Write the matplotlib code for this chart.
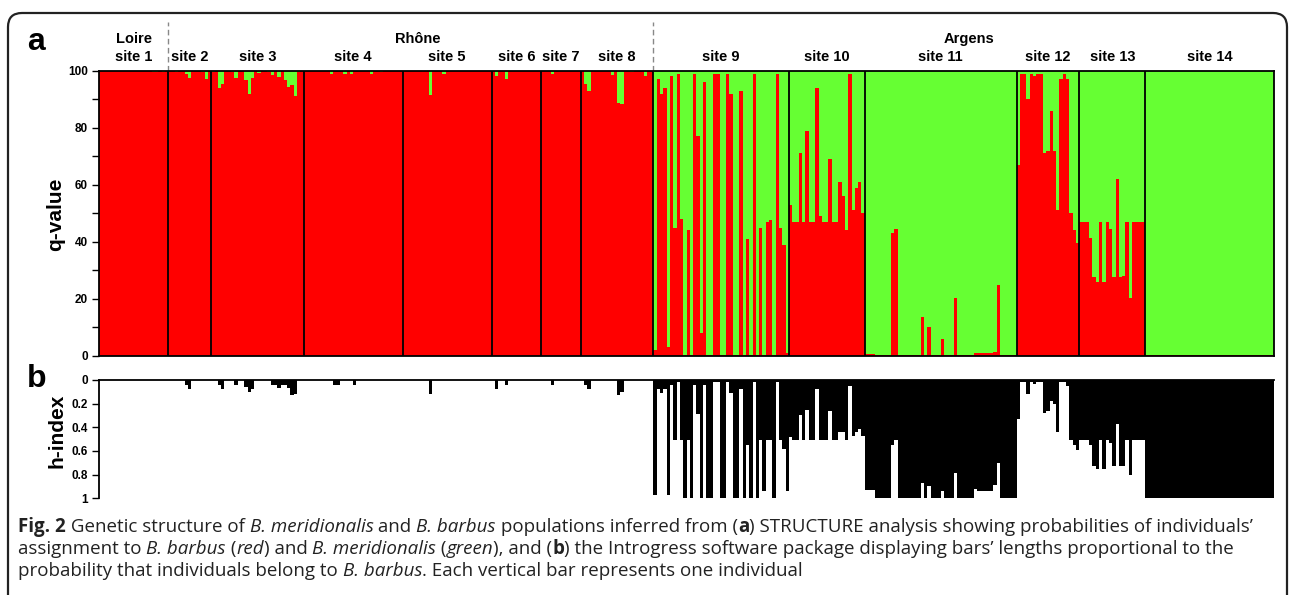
import numpy as np
import matplotlib
matplotlib.use("Agg")
import matplotlib.pyplot as plt
from matplotlib.patches import FancyBboxPatch
import matplotlib.transforms as mtransforms

plt.rcParams['font.family'] = ['Liberation Sans', 'DejaVu Sans']

RED = '#ff0000'
GREEN = '#66ff33'

# sites and regions
site_labels = ['site 1', 'site 2', 'site 3', 'site 4', 'site 5', 'site 6', 'site 7',
               'site 8', 'site 9', 'site 10', 'site 11', 'site 12', 'site 13', 'site 14']
region_labels = ['Loire', 'Rhône', 'Argens']
region_label_pos = [10.5, 96.7, 263.6]   # individual index where the region name sits
region_break_sites = [1, 8]              # dashed separators after these sites

# STRUCTURE q-values (% B. barbus) per individual, one list per site
q1 = [100, 100, 100, 100, 100, 100, 100, 100, 100, 100, 100, 100, 100, 100, 100, 100, 99.5, 99.5, 100, 99.5, 100]
q2 = [100, 100, 99.5, 100, 100, 98.8, 97.3, 100, 100, 100, 99.5, 97, 100]
q3 = [99.5, 100, 93.8, 95.5, 100, 100, 99.5, 97.3, 100, 100, 96.7, 92, 97.5, 100, 99.1, 100, 100, 99.5,
      98.5, 100, 97.7, 100, 96.7, 94.4, 95, 91.1, 99.5, 100]
q4 = [100, 100, 100, 100, 100, 100, 100, 100, 99, 100, 100, 100, 99, 100, 99, 100, 100, 100, 100, 100,
      99, 100, 100, 99.5, 100, 100, 100, 100, 100, 100]
q5 = [100, 100, 100, 100, 100, 100, 100, 100, 91.5, 100, 100, 100, 99, 100, 100, 100, 100, 100, 100, 100,
      100, 100, 100, 100, 100, 100, 100]
q6 = [100, 98, 100, 100, 97, 100, 100, 100, 100, 100, 100, 100, 100, 100, 100]
q7 = [100, 100, 100, 99, 100, 100, 100, 100, 100, 100, 100, 100]
q8 = [100, 95.5, 93, 100, 100, 100, 100, 100, 100, 98.5, 100, 88.8, 88.3, 100, 100, 99.4, 100, 100, 100,
      98, 100, 100]
q9 = [2, 97, 92, 94, 3, 98, 45, 99, 48, 0.3, 44, 0.3, 99, 77, 8, 96, 0.3, 0.3, 99, 99, 0.3, 0.3, 99, 92,
      0.3, 0.3, 93, 0.3, 41, 0.3, 99, 0.3, 45, 0.3, 47, 47.5, 0.3, 99, 45, 39, 1]
q10 = [53, 47, 47, 71, 47, 79, 47, 47, 94, 49, 47, 47, 69, 47, 47, 61, 56, 44, 99, 51, 59, 61, 50]
q11 = [0.6, 0.6, 0.6, 0.3, 0.3, 0.3, 0.3, 0.3, 43, 44.5, 0.3, 0.3, 0.3, 0.3, 0.3, 0.3, 0.3, 13.5, 0.3, 10,
       0.3, 0.3, 0.3, 6, 0.3, 0.3, 0.3, 20.5, 0.3, 0.3, 0.3, 0.3, 0.3, 1, 1, 1, 1, 1, 1, 1.5, 25,
       0.3, 0.3, 0.3, 0.3, 0.3]
q12 = [67, 99, 99, 90, 99, 98, 99, 99, 71, 72, 86, 72, 51, 97, 99, 97, 50, 44, 39.5]
q13 = [47, 47, 47, 41.5, 27.7, 26, 47, 26, 47, 44.5, 27.7, 62, 27.7, 28, 47, 20.5, 47, 47, 47, 47]
q14 = [0.3] * 39

# Introgress h-index per individual
h1 = [0] * 21
h2 = [0, 0, 0, 0, 0, 0.045, 0.08, 0, 0, 0, 0, 0, 0]
h3 = [0, 0, 0.045, 0.08, 0, 0, 0, 0.045, 0, 0, 0.06, 0.1, 0.08, 0, 0, 0, 0, 0, 0.045, 0.045, 0.07,
      0.045, 0.045, 0.07, 0.13, 0.12, 0, 0]
h4 = [0, 0, 0, 0, 0, 0, 0, 0, 0, 0.045, 0.045, 0, 0, 0, 0, 0.045, 0, 0, 0, 0, 0, 0, 0, 0, 0, 0, 0, 0, 0, 0]
h5 = [0, 0, 0, 0, 0, 0, 0, 0, 0.12, 0, 0, 0, 0, 0, 0, 0, 0, 0, 0, 0, 0, 0, 0, 0, 0, 0, 0]
h6 = [0, 0.08, 0, 0, 0.045, 0, 0, 0, 0, 0, 0, 0, 0, 0, 0]
h7 = [0, 0, 0, 0.045, 0, 0, 0, 0, 0, 0, 0, 0]
h8 = [0, 0.045, 0.08, 0, 0, 0, 0, 0, 0, 0, 0, 0.13, 0.1, 0, 0, 0, 0, 0, 0, 0, 0, 0]
h9 = [0.97, 0.08, 0.11, 0.08, 0.97, 0.045, 0.51, 0.02, 0.51, 1, 0.51, 1, 0.045, 0.29, 1, 0.045, 1, 1,
      0.02, 0.02, 1, 1, 0.02, 0.11, 1, 1, 0.08, 1, 0.55, 1, 0.02, 1, 0.51, 0.94, 0.51, 0.51, 1, 0.02,
      0.51, 0.58, 0.94]
h10 = [0.48, 0.51, 0.51, 0.30, 0.51, 0.25, 0.51, 0.51, 0.08, 0.51, 0.51, 0.51, 0.26, 0.51, 0.51, 0.44,
       0.44, 0.51, 0.05, 0.47, 0.44, 0.41, 0.47]
h11 = [0.93, 0.93, 0.93, 1, 1, 1, 1, 1, 0.55, 0.51, 1, 1, 1, 1, 1, 1, 1, 0.87, 1, 0.9, 1, 1, 1, 0.94,
       1, 1, 1, 0.79, 1, 1, 1, 1, 1, 0.92, 0.94, 0.94, 0.94, 0.94, 0.94, 0.89, 0.70, 1, 1, 1, 1, 1]
h12 = [0.33, 0.02, 0.02, 0.12, 0.02, 0.03, 0.02, 0.02, 0.28, 0.26, 0.18, 0.2, 0.44, 0.02, 0.02, 0.05,
       0.51, 0.55, 0.59]
h13 = [0.51, 0.51, 0.51, 0.55, 0.73, 0.75, 0.51, 0.75, 0.51, 0.53, 0.73, 0.37, 0.73, 0.73, 0.51, 0.80,
       0.51, 0.51, 0.51, 0.51]
h14 = [1] * 39

q_sites = [q1, q2, q3, q4, q5, q6, q7, q8, q9, q10, q11, q12, q13, q14]
h_sites = [h1, h2, h3, h4, h5, h6, h7, h8, h9, h10, h11, h12, h13, h14]

# caption as (text, style) runs: n = normal, i = italic, b = bold
caption = [
    [("Fig. 2", "b"), (" Genetic structure of ", "n"), ("B. meridionalis", "i"), (" and ", "n"),
     ("B. barbus", "i"), (" populations inferred from (", "n"), ("a", "b"),
     (") STRUCTURE analysis showing probabilities of individuals’", "n")],
    [("assignment to ", "n"), ("B. barbus", "i"), (" (", "n"), ("red", "i"), (") and ", "n"),
     ("B. meridionalis", "i"), (" (", "n"), ("green", "i"), ("), and (", "n"), ("b", "b"),
     (") the Introgress software package displaying bars’ lengths proportional to the", "n")],
    [("probability that individuals belong to ", "n"), ("B. barbus", "i"),
     (". Each vertical bar represents one individual", "n")],
]

q = np.concatenate([np.array(s, dtype=float) for s in q_sites])
h = np.concatenate([np.array(s, dtype=float) for s in h_sites])
counts = [len(s) for s in q_sites]
edges = np.concatenate([[0], np.cumsum(counts)])
n = len(q)
x = np.arange(n)

W, H = 1290, 595
fig = plt.figure(figsize=(W / 100, H / 100), dpi=100)

# background layer in pixel coords for the rounded frame
bg = fig.add_axes([0, 0, 1, 1], zorder=-1)
bg.set_xlim(0, W)
bg.set_ylim(H, 0)
bg.axis('off')
bg.add_patch(FancyBboxPatch((8, 13), 1279, 700, boxstyle="round,pad=0,rounding_size=14",
                            fc='white', ec='#222222', lw=1.6, clip_on=False))

def fx(px):
    return px / W

def fy(py):
    return 1 - py / H

# panel a: STRUCTURE
axa = fig.add_axes([fx(99), fy(356), (1274 - 99) / W, (356 - 70.7) / H])
axa.bar(x, q, width=1, align='edge', color=RED, lw=0, antialiased=False)
axa.bar(x, 100 - q, bottom=q, width=1, align='edge', color=GREEN, lw=0, antialiased=False)
for b in edges[1:-1]:
    axa.axvline(b, color='black', lw=1.3)
axa.set_xlim(0, n)
axa.set_ylim(0, 100)
axa.set_xticks([])
axa.set_yticks(np.arange(0, 101, 20))
axa.set_yticks(np.arange(10, 100, 20), minor=True)
axa.tick_params(axis='y', which='both', direction='out', length=5, width=1, labelsize=8.5, pad=3)
for lab in axa.get_yticklabels():
    lab.set_fontweight('bold')
for sp in axa.spines.values():
    sp.set_linewidth(1.3)

trans = mtransforms.blended_transform_factory(axa.transData, axa.transAxes)
for s in region_break_sites:
    b = edges[s]
    axa.plot([b, b], [1.0, 1.17], transform=trans, color='#888888', lw=1,
             ls=(0, (4, 2.5)), clip_on=False)
for i, lab in enumerate(site_labels):
    axa.text((edges[i] + edges[i + 1]) / 2, 1.048, lab, transform=trans, ha='center', va='center',
             fontsize=10.5, fontweight='bold')
for pos, lab in zip(region_label_pos, region_labels):
    axa.text(pos, 1.111, lab, transform=trans, ha='center', va='center',
             fontsize=10.5, fontweight='bold')

# panel b: h-index
axb = fig.add_axes([fx(99), fy(498.3), (1274 - 99) / W, (498.3 - 380) / H])
axb.bar(x, h, width=1, align='edge', color='black', lw=0, antialiased=False)
axb.set_xlim(0, n)
axb.set_ylim(1, 0)
axb.set_xticks([])
axb.set_yticks([0, 0.2, 0.4, 0.6, 0.8, 1])
axb.set_yticklabels(['0', '0.2', '0.4', '0.6', '0.8', '1'])
axb.tick_params(axis='y', direction='out', length=5, width=1, labelsize=8.5, pad=3)
for lab in axb.get_yticklabels():
    lab.set_fontweight('bold')
axb.spines['right'].set_visible(False)
axb.spines['bottom'].set_visible(False)
axb.spines['left'].set_linewidth(1.3)
axb.spines['top'].set_linewidth(1.3)

fig.text(fx(56), fy(214), 'q-value', rotation=90, ha='center', va='center',
         fontsize=15, fontweight='bold')
fig.text(fx(57), fy(431), 'h-index', rotation=90, ha='center', va='center',
         fontsize=15, fontweight='bold')
fig.text(fx(27), fy(42), 'a', ha='left', va='center', fontsize=23, fontweight='bold')
fig.text(fx(27), fy(379), 'b', ha='left', va='center', fontsize=23, fontweight='bold')

# caption: draw styled runs one after another, measuring each run's advance
renderer = fig.canvas.get_renderer()
cap_kw = dict(family='Open Sans', fontsize=13.5, color='#222222', va='baseline', ha='left')
styles = {'n': {}, 'i': {'fontstyle': 'italic'}, 'b': {'fontweight': 'bold'}}

def advance(s, st):
    t1 = fig.text(0, 0, '|' + s + '|', **cap_kw, **styles[st])
    t2 = fig.text(0, 0, '||', **cap_kw, **styles[st])
    w = t1.get_window_extent(renderer).width - t2.get_window_extent(renderer).width
    t1.remove()
    t2.remove()
    return w

for i, runs in enumerate(caption):
    xpos = 18.0
    base = 532 + 22 * i
    for s, st in runs:
        fig.text(fx(xpos), fy(base), s, **cap_kw, **styles[st])
        xpos += advance(s, st)

fig.savefig('out.png', dpi=100)
